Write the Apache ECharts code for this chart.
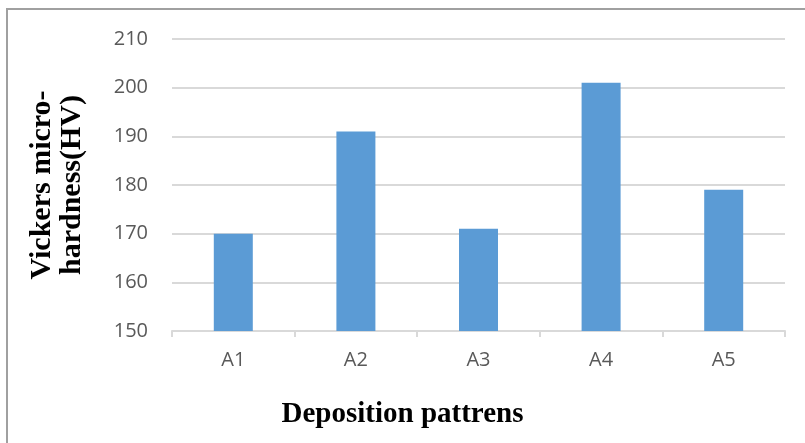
<!DOCTYPE html>
<html>
<head>
<meta charset="utf-8">
<script src="https://cdn.jsdelivr.net/npm/echarts@6/dist/echarts.min.js"></script>
<style>
  html, body { margin: 0; padding: 0; background: #fff; }
  #chart { width: 805px; height: 443px; }
</style>
</head>
<body>
<div id="chart"></div>
<script>
// Hardness measured for each deposition pattern
const patterns = ['A1', 'A2', 'A3', 'A4', 'A5'];
const hardness = [170, 191, 171, 201, 179];
const yMin = 150;
const yMax = 210;
const yStep = 10;

const serif = 'Liberation Serif, Times New Roman, serif';
const sans = 'Open Sans, sans-serif';

const chart = echarts.init(document.getElementById('chart'));
chart.setOption({
  animation: false,
  backgroundColor: '#ffffff',
  grid: { left: 172, right: 20, top: 39, bottom: 112 },
  title: {
    text: 'Deposition pattrens',
    left: 'center',
    top: 395,
    textStyle: {
      fontFamily: serif,
      fontWeight: 'bold',
      fontSize: 29,
      color: '#000'
    }
  },
  graphic: [{
    type: 'rect',
    shape: { x: 7, y: 9, width: 900, height: 600 },
    style: { fill: 'none', stroke: '#a0a0a0', lineWidth: 2 },
    silent: true
  }],
  xAxis: {
    type: 'category',
    data: patterns,
    axisLine: { lineStyle: { color: '#d9d9d9', width: 2 } },
    axisTick: { show: true, length: 6, lineStyle: { color: '#d9d9d9', width: 2 } },
    axisLabel: {
      margin: 19,
      fontFamily: sans,
      fontSize: 20,
      color: '#595959'
    }
  },
  yAxis: {
    type: 'value',
    min: yMin,
    max: yMax,
    interval: yStep,
    name: 'Vickers micro-\nhardness(HV)',
    nameLocation: 'middle',
    nameGap: 85,
    nameRotate: 90,
    nameTextStyle: {
      fontFamily: serif,
      fontWeight: 'bold',
      fontSize: 30,
      lineHeight: 30,
      color: '#000'
    },
    axisLine: { show: false },
    axisTick: { show: false },
    splitLine: { lineStyle: { color: '#d9d9d9', width: 2 } },
    axisLabel: {
      margin: 24,
      fontFamily: sans,
      fontSize: 20,
      color: '#595959'
    }
  },
  series: [{
    type: 'bar',
    data: hardness,
    barWidth: 39,
    itemStyle: { color: '#5b9bd5' }
  }]
});
</script>
</body>
</html>
